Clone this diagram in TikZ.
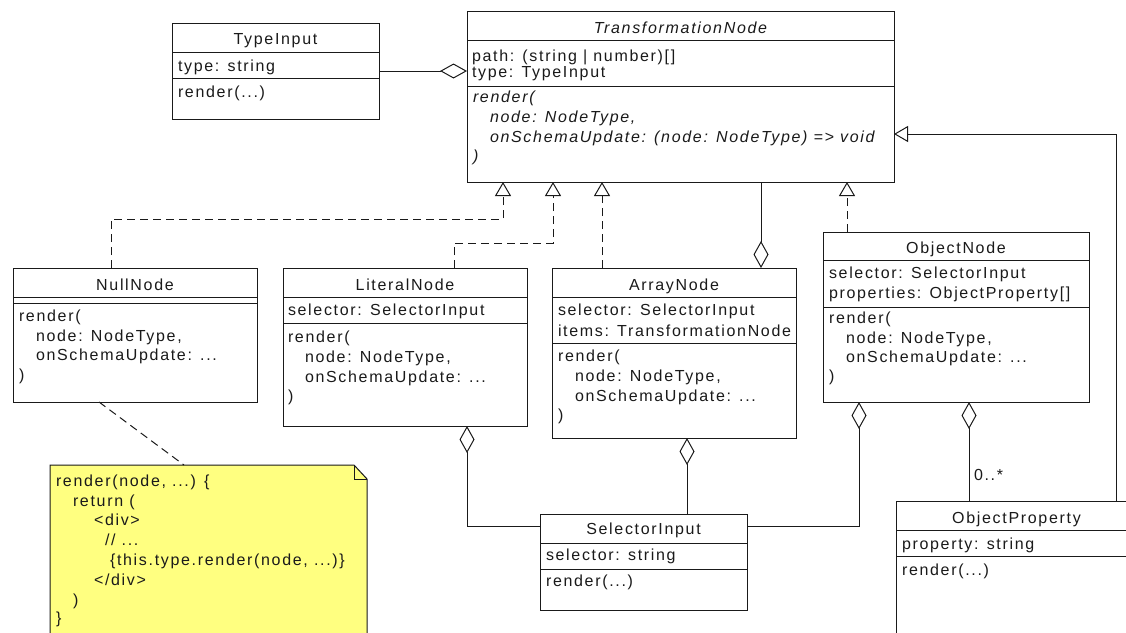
\documentclass[tikz,border=0pt]{standalone}
\usepackage{fontspec}
\newfontfamily\umlfont{Liberation Sans}[LetterSpace=10.5]
\usetikzlibrary{arrows.meta,calc}
\definecolor{ink}{RGB}{26,26,26}
\definecolor{notefill}{RGB}{255,255,128}
\tikzset{
  umlbox/.style={draw=ink, line width=1pt, fill=white, rectangle, inner sep=0pt, outer sep=0pt, anchor=north west},
  sep/.style={draw=ink, line width=1pt},
  txt/.style={anchor=base west, inner sep=0pt, outer sep=0pt, text=ink, font=\umlfont\fontsize{16}{19}\selectfont},
  ttl/.style={txt, anchor=base},
  itxt/.style={txt, font=\umlfont\itshape\fontsize{16}{19}\selectfont},
  ittl/.style={itxt, anchor=base},
  conn/.style={draw=ink, line width=1pt},
  realize/.style={conn, dash pattern=on 8pt off 5pt, -{Triangle[open, length=14pt, width=16pt]}},
  general/.style={conn, -{Triangle[open, length=14pt, width=16pt]}},
  aggr/.style={conn, {Diamond[open, length=27pt, width=15pt]}-},
  notelink/.style={conn, dash pattern=on 8pt off 5pt},
}
% class box: name, left, top, right, bottom
\newcommand\umlclass[5]{%
  \node[umlbox, minimum width={#4pt-#2pt}, minimum height={#5pt-#3pt}] (#1) at (#2,#3) {};}
% horizontal compartment separator across a box at height y
\newcommand\compsep[2]{\draw[sep] (#1.west |- 0,#2) -- (#1.east |- 0,#2);}
\begin{document}
\begin{tikzpicture}[x=1pt, y=-1pt]
\useasboundingbox (0,0) rectangle (1126,632);
\clip (0,0) rectangle (1126,632);
\fill[white] (0,0) rectangle (1126,632);

% ---- TypeInput
\umlclass{typein}{172}{23}{379}{119}
\compsep{typein}{52}
\compsep{typein}{78}
\node[ttl] (typein-t) at (275.5,44.5) {TypeInput};
\node[txt] (typein-a1) at (178,71) {type: string};
\node[txt] (typein-m1) at (178,97) {render(...)};

% ---- TransformationNode
\umlclass{tn}{467}{11}{894}{182}
\compsep{tn}{40}
\compsep{tn}{86}
\node[ittl] (tn-t) at (680.5,33) {TransformationNode};
\node[txt] (tn-a1) at (472,61) {path: (string | number)[]};
\node[txt] (tn-a2) at (472,77) {type: TypeInput};
\node[itxt] (tn-m1) at (473,102.7) {render(};
\node[itxt] (tn-m2) at (490,122) {node: NodeType,};
\node[itxt] (tn-m3) at (490,142) {onSchemaUpdate: (node: NodeType) => void};
\node[itxt] (tn-m4) at (473,161) {)};

% ---- NullNode
\umlclass{nullnode}{13}{268}{257}{402}
\compsep{nullnode}{297}
\compsep{nullnode}{303}
\node[ttl] (null-t) at (135,290) {NullNode};
\node[txt] (null-m1) at (19,321.7) {render(};
\node[txt] (null-m2) at (36,341.7) {node: NodeType,};
\node[txt] (null-m3) at (36,360.7) {onSchemaUpdate: ...};
\node[txt] (null-m4) at (19,380) {)};

% ---- LiteralNode
\umlclass{literal}{283}{268}{527}{426}
\compsep{literal}{297}
\compsep{literal}{323}
\node[ttl] (lit-t) at (405,290) {LiteralNode};
\node[txt] (lit-a1) at (288,315.7) {selector: SelectorInput};
\node[txt] (lit-m1) at (288,342.3) {render(};
\node[txt] (lit-m2) at (305,362.3) {node: NodeType,};
\node[txt] (lit-m3) at (305,382.3) {onSchemaUpdate: ...};
\node[txt] (lit-m4) at (288,401.7) {)};

% ---- ArrayNode
\umlclass{array}{552}{268}{796}{438}
\compsep{array}{297}
\compsep{array}{343}
\node[ttl] (arr-t) at (674,290) {ArrayNode};
\node[txt] (arr-a1) at (558,315) {selector: SelectorInput};
\node[txt] (arr-a2) at (558,336) {items: TransformationNode};
\node[txt] (arr-m1) at (558,361.7) {render(};
\node[txt] (arr-m2) at (575,381.7) {node: NodeType,};
\node[txt] (arr-m3) at (575,401.7) {onSchemaUpdate: ...};
\node[txt] (arr-m4) at (558,420) {)};

% ---- ObjectNode
\umlclass{object}{823}{232}{1089}{402}
\compsep{object}{260}
\compsep{object}{307}
\node[ttl] (obj-t) at (956,253) {ObjectNode};
\node[txt] (obj-a1) at (829,278.3) {selector: SelectorInput};
\node[txt] (obj-a2) at (829,298.3) {properties: ObjectProperty[]};
\node[txt] (obj-m1) at (829,323.3) {render(};
\node[txt] (obj-m2) at (846,343.3) {node: NodeType,};
\node[txt] (obj-m3) at (846,362.3) {onSchemaUpdate: ...};
\node[txt] (obj-m4) at (829,381.7) {)};

% ---- SelectorInput
\umlclass{selector}{540}{514}{747}{610}
\compsep{selector}{543}
\compsep{selector}{569}
\node[ttl] (sel-t) at (643.5,534) {SelectorInput};
\node[txt] (sel-a1) at (546,560.7) {selector: string};
\node[txt] (sel-m1) at (546,586.7) {render(...)};

% ---- ObjectProperty
\umlclass{objprop}{896}{501}{1137}{690}
\compsep{objprop}{530}
\compsep{objprop}{556}
\node[ttl] (prop-t) at (1016.5,523.5) {ObjectProperty};
\node[txt] (prop-a1) at (902,549) {property: string};
\node[txt] (prop-m1) at (902,575) {render(...)};

% ---- note with folded corner
\node[inner sep=0pt, outer sep=0pt, minimum width=317pt, minimum height=220pt, anchor=north west] (note) at (50,465) {};
\filldraw[draw=ink, fill=notefill, line width=1pt]
  (note.north west) -- ($(note.north east)+(-13,0)$) -- ($(note.north east)+(0,14)$)
  -- (note.south east) -- (note.south west) -- cycle;
\draw[ink, line width=1pt] ($(note.north east)+(-13,0)$) -- ($(note.north east)+(-13,14)$) -- ($(note.north east)+(0,14)$);
\node[txt] (note-l1) at (56,486) {render(node, ...) \{};
\node[txt] (note-l2) at (73,506) {return (};
\node[txt] (note-l3) at (94,525) {<div>};
\node[txt] (note-l4) at (105,545) {// ...};
\node[txt] (note-l5) at (110,565) {\{this.type.render(node, ...)\}};
\node[txt] (note-l6) at (94,585) {</div>};
\node[txt] (note-l7) at (73,605) {)};
\node[txt] (note-l8) at (56,623) {\}};

% ---- connectors
\draw[aggr] (tn.west |- typein.east) -- (typein.east);
\draw[realize] ($(nullnode.north west)+(98,0)$) -- ++(0,-49) -| ($(tn.south west)+(36,0)$);
\draw[realize] ($(literal.north west)+(171,0)$) -- ++(0,-25) -| ($(tn.south west)+(86,0)$);
\draw[realize] ($(array.north west)+(50,0)$) -- ($(tn.south west)+(135,0)$);
\draw[aggr] ($(array.north west)+(209,0)$) -- ($(tn.south west)+(294,0)$);
\draw[realize] ($(object.north west)+(24,0)$) -- ($(tn.south west)+(380,0)$);
\draw[general] ($(objprop.north west)+(220,0)$) |- ($(tn.north east)+(0,123)$);
\draw[aggr] ($(literal.south west)+(184,0)$) |- ($(selector.north west)+(0,12)$);
\draw[aggr] ($(array.south west)+(135,0)$) -- ($(selector.north west)+(147,0)$);
\draw[aggr] ($(object.south west)+(36,0)$) |- ($(selector.north east)+(0,12)$);
\draw[aggr] ($(object.south west)+(146,0)$) -- ($(objprop.north west)+(73,0)$);
\node[txt] (mult) at (974,480) {0..*};
\draw[notelink] ($(nullnode.south west)+(86,0)$) -- ($(note.north west)+(134,0)$);
\end{tikzpicture}
\end{document}
